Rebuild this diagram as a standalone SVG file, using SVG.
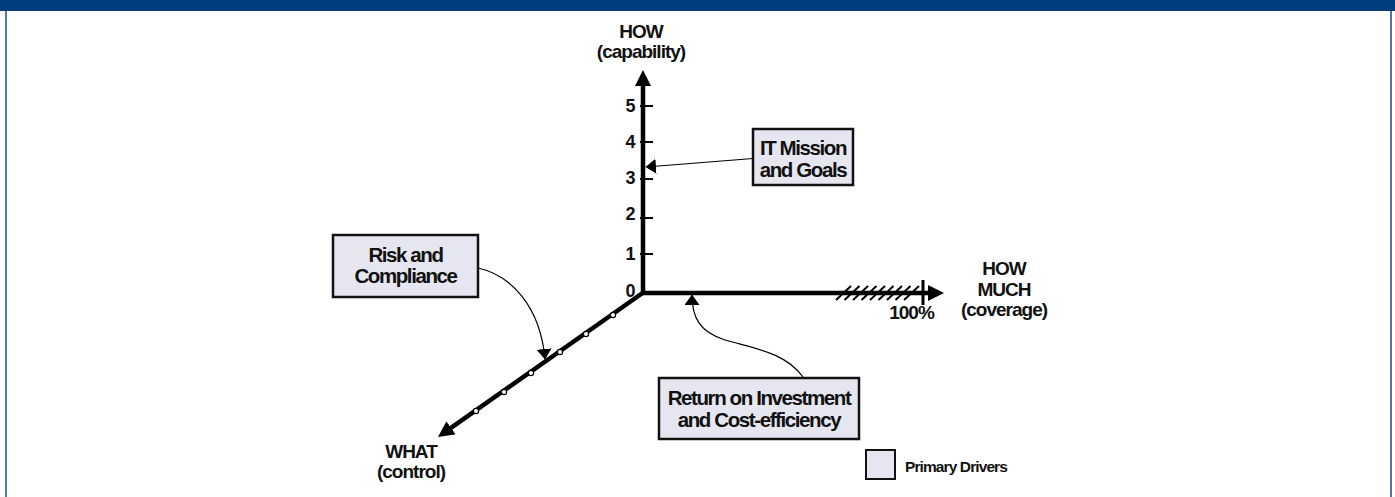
<svg xmlns="http://www.w3.org/2000/svg" width="1395" height="497" viewBox="0 0 1395 497">
  <style>
    text { font-family: "Liberation Sans", Arial, sans-serif; font-weight: bold; fill: #111; letter-spacing: -1.4px; }
    .lbl { font-size: 20.5px; text-anchor: middle; }
    .ax { font-size: 19px; text-anchor: middle; letter-spacing: -1px; }
    .num { font-size: 18px; text-anchor: end; letter-spacing: -0.5px; }
    .small { font-size: 15.5px; letter-spacing: -0.9px; }
    .box { fill: #e6e6f0; stroke: #111; stroke-width: 2.5; }
    .axis { stroke: #000; stroke-width: 4.5; fill: none; }
    .tick { stroke: #000; stroke-width: 2; }
    .hatch { stroke: #000; stroke-width: 2; }
    .conn { stroke: #000; stroke-width: 1.2; fill: none; }
    .dot { fill: #fff; stroke: #000; stroke-width: 1.2; }
  </style>
  <defs>
    <marker id="axisArrow" markerUnits="userSpaceOnUse" markerWidth="16" markerHeight="16" refX="4" refY="8" orient="auto" viewBox="0 0 16 16">
      <path d="M0,0 L16,8 L0,16 z" fill="#000"/>
    </marker>
    <marker id="connArrow" markerUnits="userSpaceOnUse" markerWidth="11" markerHeight="15" refX="10" refY="7.5" orient="auto" viewBox="0 0 11 15">
      <path d="M0,0 L10.5,7.5 L0,15 z" fill="#000"/>
    </marker>
  </defs>

  <rect width="1395" height="497" fill="#fff"/>
  <g id="frame">
    <rect x="0" y="0" width="1395" height="11" fill="#003d7c"/>
    <line x1="6" y1="11" x2="6" y2="497" stroke="#4a80b8" stroke-width="2"/>
    <line x1="1391" y1="11" x2="1391" y2="497" stroke="#1a4a8a" stroke-width="1.5"/>
  </g>

  <g id="axes">
    <line class="axis" x1="643" y1="293" x2="643" y2="82" marker-end="url(#axisArrow)"/>
    <line class="axis" x1="641" y1="293" x2="932" y2="293" marker-end="url(#axisArrow)"/>
    <line class="axis" x1="644" y1="292" x2="447.8" y2="430.1" marker-end="url(#axisArrow)"/>
    <g id="ticks">
      <line class="tick" x1="640" y1="254" x2="653" y2="254"/>
      <line class="tick" x1="640" y1="218" x2="653" y2="218"/>
      <line class="tick" x1="640" y1="179" x2="653" y2="179"/>
      <line class="tick" x1="640" y1="142" x2="653" y2="142"/>
      <line class="tick" x1="640" y1="106" x2="653" y2="106"/>
      <line x1="923" y1="280" x2="923" y2="305" stroke="#000" stroke-width="3"/>
    </g>
    <g id="hatching">
      <line class="hatch" x1="836" y1="300" x2="851" y2="286"/>
      <line class="hatch" x1="844.5" y1="300" x2="859.5" y2="286"/>
      <line class="hatch" x1="853" y1="300" x2="868" y2="286"/>
      <line class="hatch" x1="861.5" y1="300" x2="876.5" y2="286"/>
      <line class="hatch" x1="870" y1="300" x2="885" y2="286"/>
      <line class="hatch" x1="878.5" y1="300" x2="893.5" y2="286"/>
      <line class="hatch" x1="887" y1="300" x2="902" y2="286"/>
      <line class="hatch" x1="895.5" y1="300" x2="910.5" y2="286"/>
      <line class="hatch" x1="904" y1="300" x2="919" y2="286"/>
    </g>
    <g id="dots">
      <circle class="dot" cx="613" cy="315" r="2.6"/>
      <circle class="dot" cx="586" cy="334" r="2.6"/>
      <circle class="dot" cx="560" cy="352" r="2.6"/>
      <circle class="dot" cx="531" cy="373" r="2.6"/>
      <circle class="dot" cx="504" cy="392" r="2.6"/>
      <circle class="dot" cx="476" cy="411" r="2.6"/>
    </g>
    <g id="axis-labels">
      <text class="num" x="635" y="112">5</text>
      <text class="num" x="635" y="148">4</text>
      <text class="num" x="635" y="184">3</text>
      <text class="num" x="635" y="220">2</text>
      <text class="num" x="635" y="260">1</text>
      <text class="num" x="635" y="297">0</text>
      <text class="ax" x="641" y="38">HOW</text>
      <text class="ax" x="641" y="58">(capability)</text>
      <text class="ax" x="1004" y="275">HOW</text>
      <text class="ax" x="1004" y="295.5">MUCH</text>
      <text class="ax" x="1004" y="316">(coverage)</text>
      <text class="ax" x="911.5" y="319">100%</text>
      <text class="ax" x="411" y="458">WHAT</text>
      <text class="ax" x="411" y="478">(control)</text>
    </g>
  </g>

  <g id="connectors">
    <line class="conn" x1="753" y1="158.5" x2="646" y2="167" marker-end="url(#connArrow)"/>
    <path class="conn" d="M478,268 C510,275 540,305 545,359" marker-end="url(#connArrow)"/>
    <path class="conn" d="M803,377 C785,352 752,348 725,340 C700,332 692,318 692,295" marker-end="url(#connArrow)"/>
  </g>

  <g id="node-it-mission">
    <rect class="box" x="753" y="129" width="100" height="56"/>
    <text class="lbl" x="803" y="155">IT Mission</text>
    <text class="lbl" x="803" y="177">and Goals</text>
  </g>
  <g id="node-risk">
    <rect class="box" x="333" y="235" width="145" height="62"/>
    <text class="lbl" x="405.5" y="262">Risk and</text>
    <text class="lbl" x="405.5" y="283">Compliance</text>
  </g>
  <g id="node-roi">
    <rect class="box" x="659" y="378" width="200" height="61"/>
    <text class="lbl" x="759" y="405">Return on Investment</text>
    <text class="lbl" x="759" y="427">and Cost-efficiency</text>
  </g>
  <g id="legend">
    <rect class="box" x="866" y="450" width="29" height="29" style="stroke-width:2"/>
    <text class="small" x="905" y="472">Primary Drivers</text>
  </g>
</svg>
